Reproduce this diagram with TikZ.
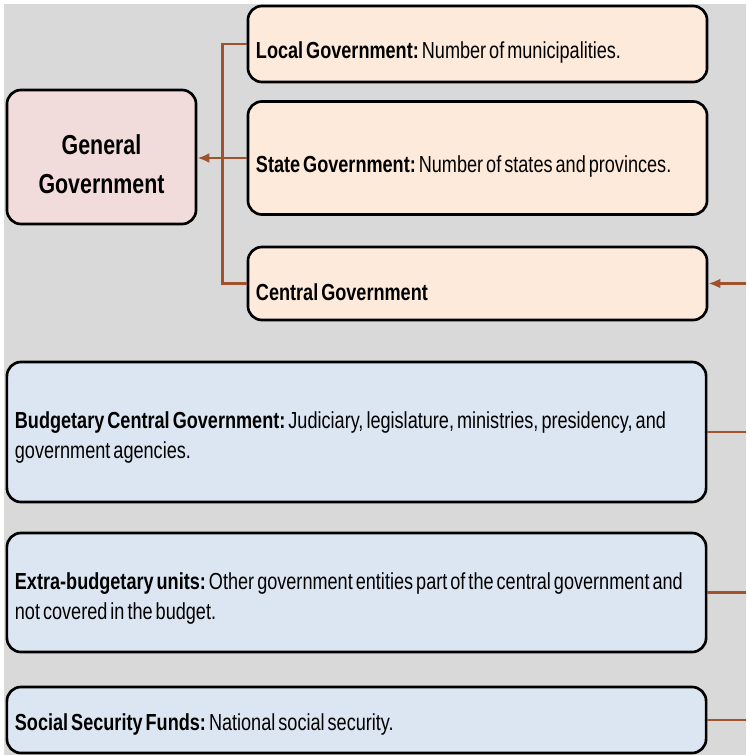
\documentclass[tikz,border=0pt]{standalone}
\usepackage{fontspec}
\setmainfont{Liberation Sans}[FakeStretch=0.78]
\usetikzlibrary{arrows.meta}
\definecolor{backgray}{HTML}{D9D9D9}
\definecolor{peach}{HTML}{FDEADA}
\definecolor{rosy}{HTML}{F2DCDB}
\definecolor{paleblue}{HTML}{DCE6F2}
\definecolor{linkbrown}{HTML}{A0522D}
\newcommand{\tightwords}{\frenchspacing\spaceskip=0.13em plus 0.05em minus 0.02em\xspaceskip=0.13em\relax}
\newcommand{\dropstrut}[1]{\rule{0pt}{#1}}
\begin{document}
\begin{tikzpicture}[x=0.025cm, y=-0.025cm,
    box/.style={draw, line width=1.9pt, rounded corners=10pt, inner xsep=0.2cm, align=left,
        font=\fontsize{16.5}{21.3}\selectfont, execute at begin node=\tightwords},
    upper/.style={box, fill=peach, minimum width=11.475cm, text width=11.075cm},
    lower/.style={box, fill=paleblue, minimum width=17.475cm, text width=17.075cm},
    link/.style={draw=linkbrown, line width=1.8pt},
    tip/.style={-{Latex[length=8.5pt,width=7pt]}}]
    \useasboundingbox (0,0) rectangle (746,755);
    \fill[white] (0,0) rectangle (746,755);
    \fill[backgray] (4,4) rectangle (746,755);
    % General government and its levels
    \node[box, fill=rosy, minimum width=4.725cm, minimum height=3.35cm, text width=4.3cm, align=center,
        font=\fontsize{19.5}{28}\selectfont\bfseries] (general) at (101.5,157) {\dropstrut{24pt}General\\Government};
    \node[upper, minimum height=1.9cm] (local) at (477.5,44) {\dropstrut{24pt}\textbf{Local Government:} Number of municipalities.};
    \node[upper, minimum height=2.825cm] (state) at (477.5,158) {\dropstrut{24pt}\textbf{State Government:} Number of states and provinces.};
    \node[upper, minimum height=1.825cm] (central) at (477.5,283.5) {\dropstrut{24pt}\textbf{Central Government}};
    % Parts of the central government
    \node[lower, minimum height=3.5cm] (budget) at (356.5,432) {\dropstrut{20pt}\textbf{Budgetary Central Government:} Judiciary, legislature, ministries, presidency, and\\government agencies.};
    \node[lower, minimum height=2.975cm] (extra) at (356.5,592.5) {\dropstrut{20pt}\textbf{Extra-budgetary units:} Other government entities part of the central government and\\not covered in the budget.};
    \node[lower, minimum height=1.65cm] (social) at (356.5,720) {\dropstrut{19pt}\textbf{Social Security Funds:} National social security.};
    % Connectors
    \coordinate (hub) at (222.5,158);
    \coordinate (rim) at (746,283.5);
    \draw[link] (local.west) -| (hub) |- (central.west);
    \draw[link] (state.west) -- (hub);
    \draw[link, tip] (hub) -- (general.east |- hub);
    \draw[link, tip] (rim) -- (central.east);
    \draw[link] (budget.east) -- (budget.east -| rim);
    \draw[link] (extra.east) -- (extra.east -| rim);
    \draw[link] (social.east) -- (social.east -| rim);
\end{tikzpicture}
\end{document}
